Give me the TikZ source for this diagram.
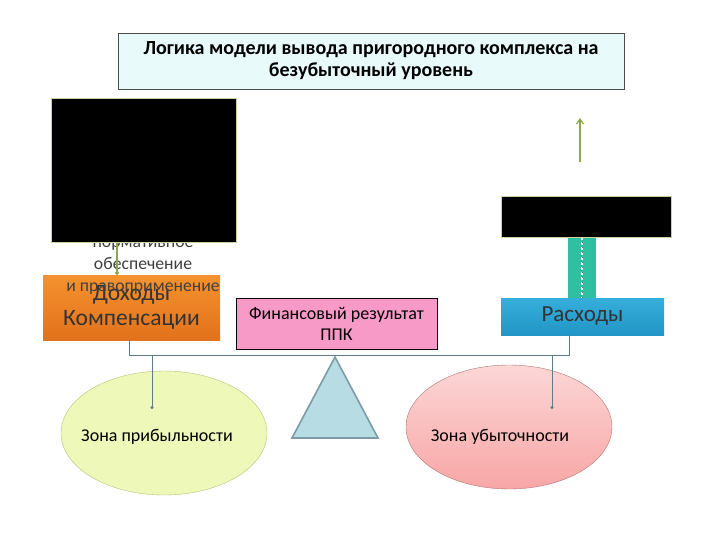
\documentclass[tikz,border=0pt]{standalone}
\usepackage{fontspec}
\setmainfont{Carlito}
\usetikzlibrary{arrows.meta, shapes.geometric}

\definecolor{titlefill}{HTML}{E8FAFA}
\definecolor{maskrim}{HTML}{C9D3A2}
\definecolor{orangetop}{HTML}{F5922E}
\definecolor{orangebot}{HTML}{E2711B}
\definecolor{pinkbox}{HTML}{F79AC8}
\definecolor{bluetop}{HTML}{36AEDA}
\definecolor{bluebot}{HTML}{2196C6}
\definecolor{tealbar}{HTML}{2EC0A0}
\definecolor{beamcol}{HTML}{5D7B8C}
\definecolor{greenarr}{HTML}{8BA845}
\definecolor{zpfill}{HTML}{EEF8B8}
\definecolor{zprim}{HTML}{B5C47A}
\definecolor{zutop}{HTML}{FCD6D6}
\definecolor{zubot}{HTML}{F8A6A6}
\definecolor{zurim}{HTML}{B57575}
\definecolor{fulfill}{HTML}{B7DCE4}
\definecolor{fulrim}{HTML}{7D9BA6}

\begin{document}
\begin{tikzpicture}[x=1pt, y=-1pt,
    titlebox/.style={draw=black!70, fill=titlefill, minimum width=506, minimum height=56,
        align=center, font=\fontsize{20}{22}\selectfont\bfseries},
    maskbox/.style={draw=maskrim, line width=1pt, fill=black},
    flowbox/.style={minimum height=#1, align=center, inner sep=0pt},
    zone/.style={ellipse, draw, minimum width=206, minimum height=124},
    zonetext/.style={font=\fontsize{18}{20}\selectfont},
    beam/.style={draw=beamcol, line width=1pt},
    drop/.style={beam, -{Circle[length=3pt]}},
    greenline/.style={draw=greenarr, line width=1.2pt}]
\useasboundingbox (0,0) rectangle (720,540);

% title
\node[titlebox] (title) at (371,61) {Логика модели вывода пригородного комплекса на\\безубыточный уровень};

% left column
\node[flowbox=65, minimum width=177, top color=orangetop, bottom color=orangebot,
    font=\fontsize{23.5}{25}\selectfont, text=black!80] (dohody) at (131.5,307.5) {Доходы\\Компенсации};
\node[align=center, font=\fontsize{17.7}{22}\selectfont, text=black!75] (norm) at (143,267)
    {нормативное\\обеспечение\\и правоприменение};
\node[maskbox, minimum width=185, minimum height=143] (maskL) at (143.5,170.5) {};
\draw[greenline, -{Circle[length=4pt]}] (maskL.south -| 117,0) -- (dohody.north -| 117,0);

% middle
\node[flowbox=51, minimum width=201, draw=black, fill=pinkbox,
    font=\fontsize{18}{21}\selectfont] (finres) at (336.5,323.5) {Финансовый результат\\ППК};

% right column
\node[flowbox=37, minimum width=163, top color=bluetop, bottom color=bluebot,
    font=\fontsize{23}{25}\selectfont, text=black!80] (rashody) at (582.5,316.5) {Расходы};
\node[flowbox=61, minimum width=28, fill=tealbar] (link) at (582,267.5) {};
\draw[white, line width=1.6pt, dash pattern=on 3pt off 2pt] (link.north) -- (link.south);
\draw[black!55, line width=0.4pt, dash pattern=on 1pt off 4pt] (link.north) -- (link.south);
\node[maskbox, minimum width=170, minimum height=40] (maskR) at (586,217) {};
\coordinate (upfrom) at (580,162);
\coordinate (upto) at (580,118);
\draw[greenline, -{Straight Barb[length=5pt, width=7pt]}] (upfrom) -- (upto);

% balance
\coordinate (bl) at (129,355);
\coordinate (br) at (569,355);
\draw[beam] (dohody.south -| bl) -- (bl) -- (br) -- (rashody.south -| br);
\draw[fill=fulfill, draw=fulrim, line width=1.6pt] (335,357) -- (378,438) -- (292,438) -- cycle;

% zones
\node[zone, fill=zpfill, draw=zprim] (zp) at (164,433) {};
\node[zonetext] (zptext) at ([shift={(-7,4)}]zp.center) {Зона прибыльности};
\node[zone, top color=zutop, bottom color=zubot, draw=zurim] (zu) at (509,427) {};
\node[zonetext] (zutext) at ([shift={(-9,10)}]zu.center) {Зона убыточности};
\coordinate (lt) at (152,355);
\coordinate (lb) at (152,409);
\coordinate (rt) at (552,355);
\coordinate (rb) at (552,409);
\draw[drop] (lt) -- (lb);
\draw[drop] (rt) -- (rb);
\end{tikzpicture}
\end{document}
